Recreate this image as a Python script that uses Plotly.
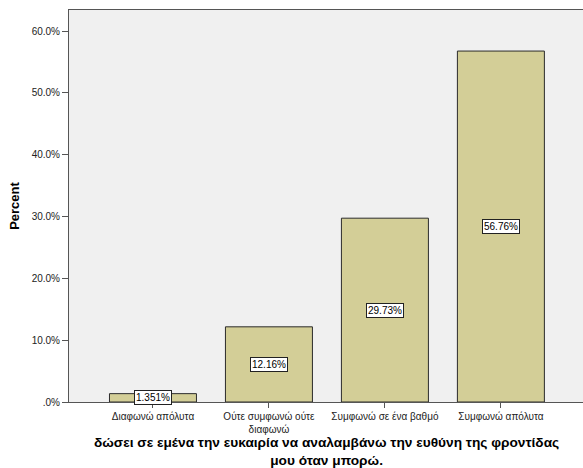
import plotly.graph_objects as go

categories = ["Διαφωνώ απόλυτα", "Ούτε συμφωνώ ούτε<br>διαφωνώ", "Συμφωνώ σε ένα βαθμό", "Συμφωνώ απόλυτα"]
percent = [1.351, 12.16, 29.73, 56.76]
value_labels = ["1.351%", "12.16%", "29.73%", "56.76%"]
y_ticks = [0, 10, 20, 30, 40, 50, 60]
y_tick_labels = [".0%", "10.0%", "20.0%", "30.0%", "40.0%", "50.0%", "60.0%"]
x_title = "δώσει σε εμένα την ευκαιρία να αναλαμβάνω την ευθύνη της φροντίδας<br>μου όταν μπορώ."
y_title = "Percent"

FONT = "Liberation Sans, Arial, sans-serif"
xpos = list(range(len(categories)))

fig = go.Figure()
fig.add_trace(go.Bar(
    x=xpos, y=percent, width=0.75,
    marker=dict(color="#d3ce97", line=dict(color="#2b2b2b", width=1)),
    hoverinfo="skip",
))

for xi, v, lab in zip(xpos, percent, value_labels):
    fig.add_annotation(
        x=xi, y=v / 2, text=lab, showarrow=False,
        font=dict(family=FONT, size=10, color="black"),
        bgcolor="white", bordercolor="#222", borderwidth=1, borderpad=1,
    )

fig.update_layout(
    width=583, height=468,
    margin=dict(l=69, r=0, t=10, b=66, autoexpand=False),
    paper_bgcolor="white", plot_bgcolor="#f0f0f0",
    showlegend=False, bargap=0.25,
    font=dict(family=FONT, size=10, color="#222"),
    xaxis=dict(
        range=[-0.724, 3.708], tickmode="array", tickvals=xpos, ticktext=categories,
        showline=True, linecolor="#555", linewidth=1, mirror=True,
        ticks="outside", ticklen=5, tickcolor="#555", showgrid=False, zeroline=False,
        tickfont=dict(family=FONT, size=10, color="#222"),
        automargin=False, fixedrange=True,
    ),
    yaxis=dict(
        range=[0, 63.4], tickmode="array", tickvals=y_ticks, ticktext=y_tick_labels,
        showline=True, linecolor="#555", linewidth=1,
        ticks="outside", ticklen=6, tickcolor="#555", showgrid=False, zeroline=False,
        tickfont=dict(family=FONT, size=10, color="#222"),
        title=dict(text="<b>" + y_title + "</b>", font=dict(family=FONT, size=13, color="black"), standoff=9),
        automargin=False, fixedrange=True,
    ),
)

fig.add_annotation(
    xref="paper", yref="paper", x=0.5, y=(402 - 451.5) / 392.0, yanchor="middle",
    text="<b>" + x_title + "</b>", showarrow=False,
    font=dict(family=FONT, size=13.7, color="black"), align="center",
)

fig.write_html("out.html", config={"displayModeBar": False},
               post_script="document.body.style.margin='0';")
